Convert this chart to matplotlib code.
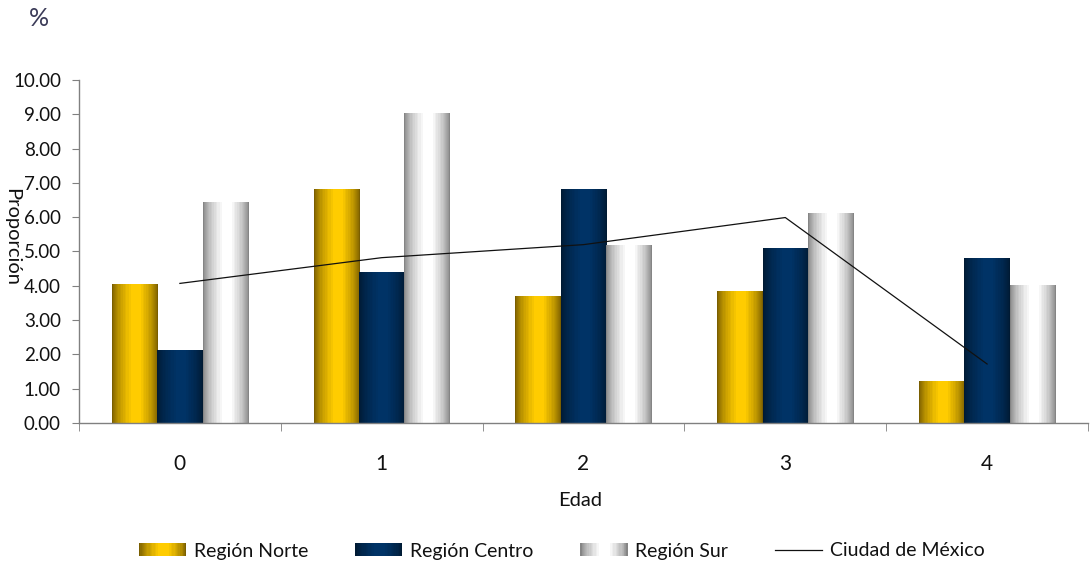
import numpy as np
import matplotlib
matplotlib.use("Agg")
import matplotlib.pyplot as plt
from matplotlib.patches import Rectangle
from matplotlib.lines import Line2D
from matplotlib.legend_handler import HandlerBase
from matplotlib.colors import to_rgb

plt.rcParams['font.family'] = ['Lato', 'DejaVu Sans']

# ---- data ----
edades = ["0", "1", "2", "3", "4"]
region_norte = [4.05, 6.82, 3.70, 3.82, 1.22]
region_centro = [2.10, 4.38, 6.82, 5.10, 4.80]
region_sur = [6.42, 9.02, 5.18, 6.10, 4.02]
ciudad_mexico = [4.07, 4.82, 5.20, 5.99, 1.72]

series_labels = ["Región Norte", "Región Centro", "Región Sur"]
line_label = "Ciudad de México"

# edge / centre colours of the cylinder-like shading
shades = [("#7a5e00", "#ffcc00"),
          ("#001a33", "#003366"),
          ("#858585", "#ffffff")]


def shade_profile(n=64, steps=14):
    t = np.linspace(0, 1, n)
    f = np.where(t < 0.42, t / 0.42, np.where(t > 0.62, (1 - t) / 0.38, 1.0))
    f = np.clip(f, 0, 1) ** 0.7
    f = np.round(f * steps) / steps
    return f


def gradient_rgb(edge, centre, n=64):
    e = np.array(to_rgb(edge))
    c = np.array(to_rgb(centre))
    f = shade_profile(n)[:, None]
    return e + (c - e) * f


class GradientHandler(HandlerBase):
    def __init__(self, edge, centre, **kw):
        super().__init__(**kw)
        self.cols = gradient_rgb(edge, centre, 40)

    def create_artists(self, legend, orig_handle, xdescent, ydescent,
                       width, height, fontsize, trans):
        arts = []
        n = len(self.cols)
        w = width / n
        for i, col in enumerate(self.cols):
            r = Rectangle((-xdescent + i * w, -ydescent), w * 1.05, height,
                          facecolor=col, edgecolor='none', transform=trans)
            arts.append(r)
        return arts


fig = plt.figure(figsize=(10.9, 5.65), dpi=100)
ax = fig.add_axes([79 / 1090, 1 - 423 / 565, (1088 - 79) / 1090, (423 - 80) / 565])

x = np.arange(len(edades))
bw = 0.225
offsets = [-bw, 0, bw]
all_series = [region_norte, region_centro, region_sur]

for vals, off, (edge, centre), lab in zip(all_series, offsets, shades, series_labels):
    bars = ax.bar(x + off, vals, width=bw, facecolor='none', edgecolor='none', label=lab)
    img = gradient_rgb(edge, centre)[None, :, :]
    for rect in bars:
        x0 = rect.get_x()
        ax.imshow(img, extent=[x0, x0 + rect.get_width(), 0, rect.get_height()],
                  aspect='auto', interpolation='nearest', zorder=2)

ax.plot(x, ciudad_mexico, color='#111111', lw=0.9, zorder=3)

ax.set_xlim(-0.5, 4.5)
ax.set_ylim(0, 10)
ax.set_yticks(np.arange(0, 10.01, 1))
ax.set_yticklabels([f"{v:.2f}" for v in np.arange(0, 10.01, 1)], fontsize=13.5)
ax.set_xticks(x)
ax.set_xticklabels(edades, fontsize=15)
ax.set_xticks(np.arange(-0.5, 4.6, 1), minor=True)

for s in ['top', 'right']:
    ax.spines[s].set_visible(False)
for s in ['left', 'bottom']:
    ax.spines[s].set_color('#808080')
    ax.spines[s].set_linewidth(1.0)

ax.tick_params(axis='y', direction='out', length=5, color='#808080', pad=8, labelcolor='#111111')
ax.tick_params(axis='x', which='major', length=0, pad=22, labelcolor='#111111')
ax.tick_params(axis='x', which='minor', direction='out', length=6, color='#808080')

fig.text(580 / 1090, 1 - 500 / 565, "Edad", ha='center', va='center', fontsize=14.5, color='#111111')
fig.text(12 / 1090, 1 - 237 / 565, "Proporción", ha='center', va='center',
         rotation=270, fontsize=14.5, color='#111111')
fig.text(39 / 1090, 1 - 19 / 565, "%", ha='center', va='center', fontsize=18, color='#3b3b58')

handles = [Rectangle((0, 0), 1, 1) for _ in range(3)] + [Line2D([], [], color='#111111', lw=0.9)]
labels = series_labels + [line_label]
handler_map = {handles[i]: GradientHandler(*shades[i]) for i in range(3)}
fig.legend(handles, labels, handler_map=handler_map, loc='center',
           bbox_to_anchor=(562 / 1090, 1 - 551 / 565), ncol=4, frameon=False,
           fontsize=14, handlelength=2.42, handleheight=0.62, handletextpad=0.41,
           columnspacing=2.4, labelcolor='#111111')

fig.savefig("out.png", dpi=100)
